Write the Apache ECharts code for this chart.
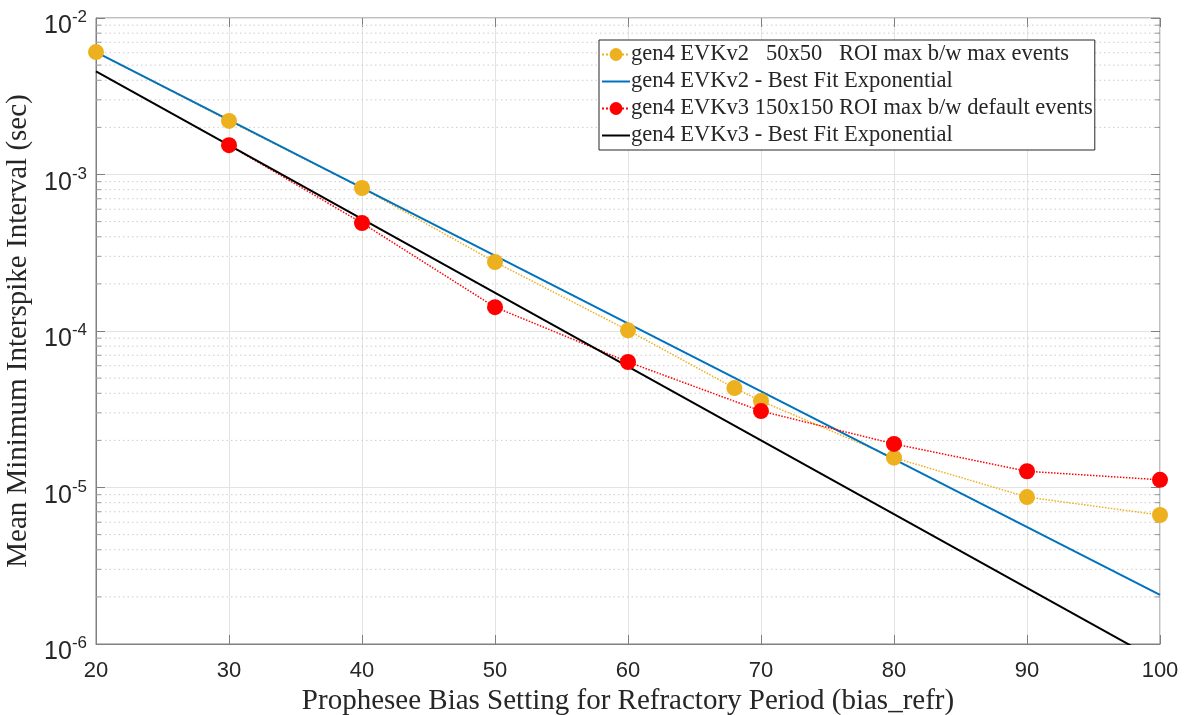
<!DOCTYPE html>
<html>
<head>
<meta charset="utf-8">
<script src="https://cdn.jsdelivr.net/npm/echarts@6/dist/echarts.min.js"></script>
<style>
html,body{margin:0;padding:0;background:#fff;}
#chart{width:1186px;height:715px;}
</style>
</head>
<body>
<div id="chart"></div>
<script>
// ---- data ----
const v2X = [20, 30, 40, 50, 60, 68, 70, 80, 90, 100];
const v2Y = [6.06e-3, 2.20e-3, 8.2e-4, 2.76e-4, 1.01e-4, 4.32e-5, 3.57e-5, 1.55e-5, 8.69e-6, 6.67e-6];
const v3X = [30, 40, 50, 60, 70, 80, 90, 100];
const v3Y = [1.54e-3, 4.9e-4, 1.42e-4, 6.34e-5, 3.08e-5, 1.90e-5, 1.27e-5, 1.12e-5];
const fitX = [20, 100];
const fitV2Y = [6.06e-3, 2.06e-6];
const fitV3Y = [4.56e-3, 7.7e-7];
const seriesNames = [
  'gen4 EVKv2   50x50   ROI max b/w max events',
  'gen4 EVKv2 - Best Fit Exponential',
  'gen4 EVKv3 150x150 ROI max b/w default events',
  'gen4 EVKv3 - Best Fit Exponential'
];
const xTicks = [20, 30, 40, 50, 60, 70, 80, 90, 100];
const xMin = 20, xMax = 100;
const yMin = 1e-6, yMax = 1e-2;
const minorMantissas = [2, 3, 4, 5, 6, 7, 8, 9];
const minorExponents = [-6, -5, -4, -3];
const xTitle = 'Prophesee Bias Setting for Refractory Period (bias_refr)';
const yTitle = 'Mean Minimum Interspike Interval (sec)';

const pair = (xs, ys) => xs.map((x, i) => [x, ys[i]]);
const minorVals = [];
minorExponents.forEach(e => minorMantissas.forEach(m => minorVals.push(+(m * Math.pow(10, e)).toPrecision(3))));

const AX = '#808080';
const TXT = '#262626';
const serif = 'Liberation Serif';
const sans = 'Liberation Sans';
const lineIcon = 'path://M0,0 L28,0 L28,2 L0,2 Z';

// dotted minor grid lines (one short line series per minor value)
const minorGridSeries = minorVals.map(v => ({
  name: 'minor-' + v, type: 'line', silent: true, z: 0,
  symbol: 'none', data: [[xMin, v], [xMax, v]],
  lineStyle: {type: [1.5, 3], color: '#cccccc', width: 1},
  tooltip: {show: false}
}));

const chart = echarts.init(document.getElementById('chart'), null, {renderer: 'canvas'});
const option = {
  backgroundColor: '#fff',
  animation: false,
  grid: {
    left: 96, right: 26, top: 18, bottom: 71,
    outerBoundsMode: 'none', containLabel: false,
    show: true, borderColor: AX, borderWidth: 1, backgroundColor: 'transparent'
  },
  legend: {
    orient: 'vertical',
    left: 599, top: 40,
    backgroundColor: '#fff',
    borderColor: '#262626', borderWidth: 1,
    padding: [3, 2, 3, 2],
    itemGap: 4,
    itemWidth: 28, itemHeight: 16,
    symbolKeepAspect: true,
    textStyle: {fontFamily: serif, fontSize: 22.5, color: TXT, padding: [0, 0, 0, -4]},
    data: [
      {name: seriesNames[0]},
      {name: seriesNames[1], icon: lineIcon},
      {name: seriesNames[2]},
      {name: seriesNames[3], icon: lineIcon}
    ]
  },
  xAxis: [{
    type: 'value', min: xMin, max: xMax, interval: 10,
    name: xTitle, nameLocation: 'middle', nameGap: 35,
    nameTextStyle: {fontFamily: serif, fontSize: 29, color: TXT},
    axisLine: {show: true, onZero: false, lineStyle: {color: AX, width: 1}},
    axisTick: {show: true, inside: true, length: 9, lineStyle: {color: AX}},
    axisLabel: {fontFamily: sans, fontSize: 22, color: TXT, margin: 16},
    splitLine: {show: true, lineStyle: {color: '#e3e3e3', width: 1}}
  }, {
    type: 'value', min: xMin, max: xMax, interval: 10, position: 'top',
    axisLine: {show: false},
    axisTick: {show: true, inside: true, length: 9, lineStyle: {color: AX}},
    axisLabel: {show: false}, splitLine: {show: false}
  }],
  yAxis: [{
    type: 'log', logBase: 10, min: yMin, max: yMax,
    name: yTitle, nameLocation: 'middle', nameGap: 51,
    nameTextStyle: {fontFamily: serif, fontSize: 29, color: TXT},
    axisLine: {show: true, onZero: false, lineStyle: {color: AX, width: 1}},
    axisTick: {show: true, inside: true, length: 9, lineStyle: {color: AX}},
    axisLabel: {
      margin: 9,
      padding: [12, 0, 0, 0],
      formatter: v => '{b|10}{s|' + Math.round(Math.log10(v)) + '}',
      rich: {
        b: {fontFamily: sans, fontSize: 25, color: TXT, verticalAlign: 'bottom', lineHeight: 30},
        s: {fontFamily: sans, fontSize: 17, color: TXT, verticalAlign: 'top', lineHeight: 30}
      }
    },
    splitLine: {show: true, lineStyle: {color: '#e3e3e3', width: 1}}
  }, {
    type: 'log', logBase: 10, min: yMin, max: yMax, position: 'right',
    axisLine: {show: false},
    axisTick: {show: true, inside: true, length: 9, lineStyle: {color: AX}},
    axisLabel: {show: false}, splitLine: {show: false}
  }],
  series: minorGridSeries.concat([
    {
      name: 'minorTicksL', type: 'scatter', silent: true, z: 1,
      symbol: 'rect', symbolSize: [5, 1], symbolOffset: [2.5, 0],
      itemStyle: {color: AX},
      data: minorVals.map(v => [xMin, v])
    },
    {
      name: 'minorTicksR', type: 'scatter', silent: true, z: 1,
      symbol: 'rect', symbolSize: [5, 1], symbolOffset: [-2.5, 0],
      itemStyle: {color: AX},
      data: minorVals.map(v => [xMax, v])
    },
    {
      name: seriesNames[0], type: 'line', data: pair(v2X, v2Y),
      symbol: 'circle', symbolSize: 16, z: 3,
      lineStyle: {color: '#EDB120', width: 1.5, type: 'dotted'},
      itemStyle: {color: '#EDB120'}, color: '#EDB120'
    },
    {
      name: seriesNames[1], type: 'line', data: pair(fitX, fitV2Y),
      symbol: 'none', z: 3, clip: true,
      lineStyle: {color: '#0072BD', width: 2},
      itemStyle: {color: '#0072BD'}, color: '#0072BD'
    },
    {
      name: seriesNames[2], type: 'line', data: pair(v3X, v3Y),
      symbol: 'circle', symbolSize: 16, z: 3,
      lineStyle: {color: '#FF0000', width: 1.5, type: 'dotted'},
      itemStyle: {color: '#FF0000'}, color: '#FF0000'
    },
    {
      name: seriesNames[3], type: 'line', data: pair(fitX, fitV3Y),
      symbol: 'none', z: 3, clip: true,
      lineStyle: {color: '#000000', width: 2},
      itemStyle: {color: '#000000'}, color: '#000000'
    }
  ])
};
chart.setOption(option);
</script>
</body>
</html>
